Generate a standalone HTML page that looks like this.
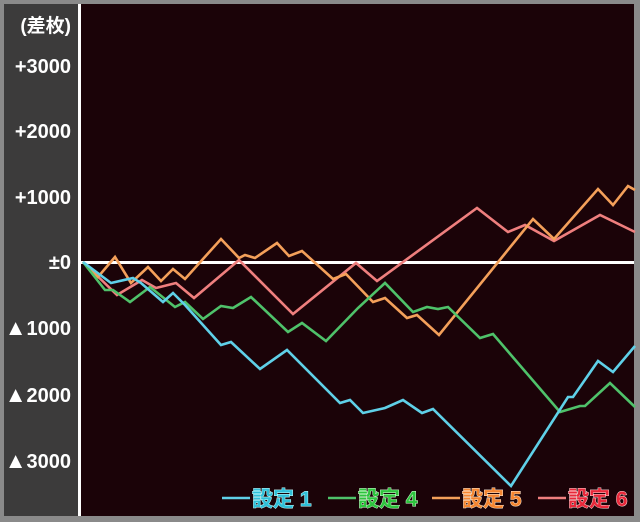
<!DOCTYPE html>
<html><head><meta charset="utf-8"><style>
body{margin:0;background:#8a8a8a;}
svg{display:block}
</style></head><body>
<svg width="640" height="522" xmlns="http://www.w3.org/2000/svg">
<rect width="640" height="522" fill="#8a8a8a"/>
<rect x="4" y="4" width="74" height="512" fill="#3c3b3b"/>
<rect x="81" y="4" width="553" height="512" fill="#1b0308"/>
<rect x="78" y="4" width="3" height="512" fill="#fff"/>
<rect x="81" y="261" width="553" height="3" fill="#fff"/>
<g font-family="Liberation Sans, Noto Sans CJK JP, sans-serif" font-weight="bold" font-size="20" fill="#fff" text-anchor="end">
<text x="71" y="32" font-size="19">(差枚)</text>
<text x="71" y="73">+3000</text>
<text x="71" y="138">+2000</text>
<text x="71" y="204">+1000</text>
<text x="71" y="269">±0</text>
<text x="71" y="335"><tspan font-size="22">▲</tspan>1000</text>
<text x="71" y="402"><tspan font-size="22">▲</tspan>2000</text>
<text x="71" y="468"><tspan font-size="22">▲</tspan>3000</text>
</g>
<g fill="none" stroke-width="2.6" stroke-linejoin="miter">
<polyline stroke="#ef7f7e" points="83,262 117,295 142,280 156,288 176,283 194,298 239,260 293,314 356,263 377,281 477,208 508,232 525,225 554,241 600,215 635,232"/>
<polyline stroke="#f4a05a" points="83,262 98,277 115,257 131,283 148,267 161,281 173,269 185,279 221,239 239,258 245,255 255,258 277,243 289,256 302,251 333,279 346,274 373,302 385,298 407,318 417,315 439,335 533,219 554,239 598,189 613,205 628,186 635,190"/>
<polyline stroke="#4fc26a" points="83,262 105,290 113,290 130,302 150,287 175,307 185,302 203,319 221,306 233,308 251,297 288,332 302,323 326,341 358,308 385,283 413,312 427,307 438,309 448,307 480,338 493,334 560,412 580,406 585,406 610,383 635,407"/>
<polyline stroke="#5fd0e8" points="83,262 111,283 133,278 141,283 163,302 173,293 185,305 221,345 231,342 260,369 287,350 340,403 350,400 363,413 385,408 403,400 422,413 433,409 511,486 568,397 573,397 598,361 613,372 635,346"/>
</g>
<g font-family="Liberation Sans, Noto Sans CJK JP, sans-serif" font-weight="bold" font-size="21">
<line x1="222" y1="498" x2="250" y2="498" stroke="#5fd0e8" stroke-width="2.5"/>
<text x="252" y="506" fill="#2fbfd8" stroke="#cff" stroke-width="0.9" paint-order="stroke">設定 1</text>
<line x1="328" y1="498" x2="356" y2="498" stroke="#4fc26a" stroke-width="2.5"/>
<text x="358" y="506" fill="#2ec43e" stroke="#dfd" stroke-width="0.9" paint-order="stroke">設定 4</text>
<line x1="432" y1="498" x2="460" y2="498" stroke="#f4a05a" stroke-width="2.5"/>
<text x="462" y="506" fill="#f48530" stroke="#fed" stroke-width="0.9" paint-order="stroke">設定 5</text>
<line x1="538" y1="498" x2="566" y2="498" stroke="#ef7f7e" stroke-width="2.5"/>
<text x="568" y="506" fill="#e8283a" stroke="#fdd" stroke-width="0.9" paint-order="stroke">設定 6</text>
</g>
</svg>
</body></html>
